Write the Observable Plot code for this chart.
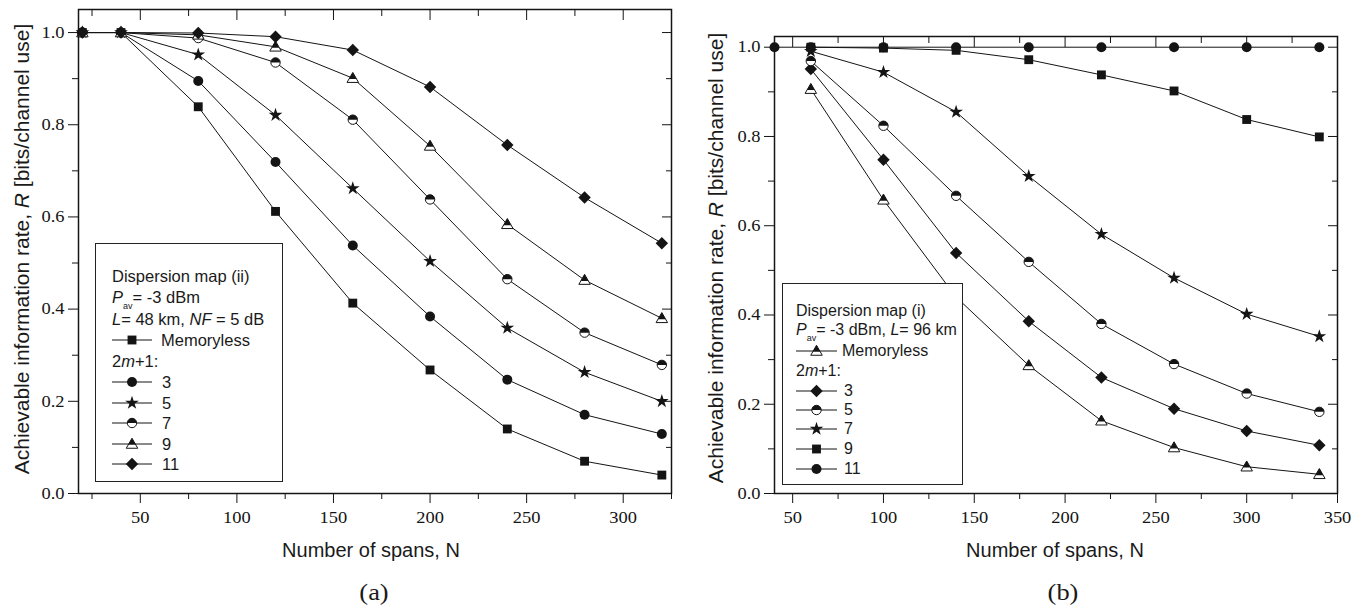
<!DOCTYPE html>
<html>
<head>
<meta charset="utf-8">
<script src="https://cdn.jsdelivr.net/npm/d3@7"></script>
<script src="https://cdn.jsdelivr.net/npm/@observablehq/plot@0.6"></script>
<style>
  body { margin: 0; background: #fff; }
  #page { position: relative; width: 1363px; height: 609px; overflow: hidden;
          font-family: "Liberation Sans", Arial, sans-serif; color: #1a1a1a; }
  .panel { position: absolute; top: 0; }
  .ylab { position: absolute; white-space: nowrap; font-size: 21px;
          transform: translate(-50%, -50%) rotate(-90deg); }
  .xlab { position: absolute; white-space: nowrap; font-size: 20px;
          transform: translate(-50%, -50%); }
  .cap { position: absolute; font-family: "Liberation Serif", serif; font-size: 24px;
         transform: translate(-50%, -50%) scaleX(1.1); }
  .legend { position: absolute; background: #fff; border: 1px solid #222; box-sizing: border-box; }
  .row { position: absolute; white-space: nowrap; font-size: 16.5px; line-height: 16px; height: 16px;
         transform: translateY(-50%); }
  .legend.narrow .row { font-size: 16px; }
  .row svg { position: absolute; top: 1px; }
  sub.av { font-size: 9px; vertical-align: -6px; }
</style>
</head>
<body>
<div id="page"></div>
<script>
// ---------- (a) dispersion map (ii), L = 48 km ----------
const spansA = [20, 40, 80, 120, 160, 200, 240, 280, 320];
const memorylessA = [1.0, 1.0, 0.839, 0.612, 0.413, 0.268, 0.140, 0.070, 0.040];
const win3A  = [1.0, 1.0, 0.895, 0.719, 0.538, 0.384, 0.247, 0.171, 0.129];
const win5A  = [1.0, 1.0, 0.952, 0.821, 0.662, 0.504, 0.359, 0.263, 0.200];
const win7A  = [1.0, 1.0, 0.988, 0.935, 0.811, 0.638, 0.465, 0.349, 0.279];
const win9A  = [1.0, 1.0, 0.995, 0.969, 0.901, 0.754, 0.584, 0.463, 0.380];
const win11A = [1.0, 1.0, 0.999, 0.991, 0.962, 0.882, 0.756, 0.642, 0.543];

// ---------- (b) dispersion map (i), L = 96 km ----------
const spansB = [40, 60, 100, 140, 180, 220, 260, 300, 340];
const memorylessB = [null, 0.906, 0.658, 0.440, 0.287, 0.163, 0.103, 0.060, 0.043];
const win3B  = [null, 0.951, 0.748, 0.539, 0.386, 0.260, 0.190, 0.140, 0.108];
const win5B  = [null, 0.969, 0.824, 0.667, 0.519, 0.380, 0.290, 0.224, 0.183];
const win7B  = [null, 0.991, 0.944, 0.855, 0.711, 0.581, 0.483, 0.402, 0.352];
const win9B  = [null, 1.0, 0.998, 0.993, 0.972, 0.938, 0.902, 0.838, 0.799];
const win11B = [1.0, 1.0, 1.0, 1.0, 1.0, 1.0, 1.0, 1.0, 1.0];

// ---------- axis ticks ----------
const xMajorA = [50, 100, 150, 200, 250, 300];
const xMinorA = [25, 75, 125, 175, 225, 275, 325];
const xMajorB = [50, 100, 150, 200, 250, 300, 350];
const xMinorB = [75, 125, 175, 225, 275, 325];
const yMajor = [0, 0.2, 0.4, 0.6, 0.8, 1.0];
const yMinor = [0.1, 0.3, 0.5, 0.7, 0.9];

// ---------- text ----------
const yTitle = "Achievable information rate, <i>R</i> [bits/channel use]";
const xTitle = "Number of spans, N";
const legendHeadA = ["Dispersion map (ii)", "<i>P</i><sub class='av'>av</sub>= -3 dBm", "<i>L</i>= 48 km, <i>NF</i> = 5 dB"];
const legendHeadB = ["Dispersion map (i)", "<i>P</i><sub class='av'>av</sub>= -3 dBm, <i>L</i>= 96 km"];
const windowHeading = "2<i>m</i>+1:";

// ---------- marker shapes ----------
const halfDiscTop = {
  draw(ctx, size) {
    const r = Math.sqrt(size / Math.PI);
    ctx.moveTo(r, 0);
    ctx.arc(0, 0, r, 0, Math.PI, true);
    ctx.closePath();
  }
};
const triOutline = {
  draw(ctx, size) {
    const r = Math.sqrt(size / Math.PI);
    ctx.moveTo(0, -1.15 * r);
    ctx.lineTo(1.15 * r, 0.85 * r);
    ctx.lineTo(-1.15 * r, 0.85 * r);
    ctx.closePath();
  }
};
const triTop = {
  draw(ctx, size) {
    const r = Math.sqrt(size / Math.PI);
    const top = -1.15 * r, bot = 0.85 * r, t = 0.66;
    const cut = top + t * (bot - top), w = 1.15 * r * t;
    ctx.moveTo(0, top);
    ctx.lineTo(w, cut);
    ctx.lineTo(-w, cut);
    ctx.closePath();
  }
};
const INK = "#141414";
const TICK_FONT = "'Liberation Serif', 'Times New Roman', serif";
const markerLayers = {
  square:   [{symbol: "square", fill: INK, r: 5}],
  circle:   [{symbol: "circle", fill: INK, r: 5}],
  star:     [{symbol: "star", fill: INK, r: 4.3}],
  diamond:  [{symbol: "diamond2", fill: INK, r: 5.6}],
  halfdisc: [{symbol: "circle", fill: "#fff", stroke: INK, r: 4.7},
             {symbol: halfDiscTop, fill: INK, r: 4.7}],
  halftri:  [{symbol: triOutline, fill: "#fff", stroke: INK, r: 5},
             {symbol: triTop, fill: INK, r: 5}]
};
const d3Types = {square: d3.symbolSquare, circle: d3.symbolCircle, star: d3.symbolStar, diamond2: d3.symbolDiamond2};

const seriesA = [
  {name: "Memoryless", kind: "square", values: memorylessA},
  {name: "3", kind: "circle", values: win3A},
  {name: "5", kind: "star", values: win5A},
  {name: "7", kind: "halfdisc", values: win7A},
  {name: "9", kind: "halftri", values: win9A},
  {name: "11", kind: "diamond", values: win11A}
];
const seriesB = [
  {name: "Memoryless", kind: "halftri", values: memorylessB},
  {name: "3", kind: "diamond", values: win3B},
  {name: "5", kind: "halfdisc", values: win5B},
  {name: "7", kind: "star", values: win7B},
  {name: "9", kind: "square", values: win9B},
  {name: "11", kind: "circle", values: win11B}
];

function panel(spans, series, o) {
  const rows = series.flatMap(s => s.values.map((v, i) => ({series: s.name, kind: s.kind, n: spans[i], r: v})))
    .filter(d => d.r != null);
  const blank = () => "";
  const marks = [
    Plot.axisX({ticks: o.xMajor, tickSize: 10, tickPadding: 8, label: null, tickFormat: d => String(d)}),
    Plot.axisX({ticks: o.xMinor, tickSize: 6, label: null, tickFormat: blank}),
    Plot.axisX({anchor: "top", ticks: o.xMajor, tickSize: -10, label: null, tickFormat: blank}),
    Plot.axisX({anchor: "top", ticks: o.xMinor, tickSize: -6, label: null, tickFormat: blank}),
    Plot.axisY({ticks: yMajor, tickSize: 10, tickPadding: 4, label: null, tickFormat: d3.format(".1f")}),
    Plot.axisY({ticks: yMinor, tickSize: 6, label: null, tickFormat: blank}),
    Plot.axisY({anchor: "right", ticks: yMajor, tickSize: -10, label: null, tickFormat: blank}),
    Plot.axisY({anchor: "right", ticks: yMinor, tickSize: -6, label: null, tickFormat: blank}),
    Plot.line(rows, {x: "n", y: "r", z: "series", stroke: INK, strokeWidth: 1})
  ];
  for (const s of series) {
    for (const layer of markerLayers[s.kind]) {
      marks.push(Plot.dot(rows.filter(d => d.series === s.name), {x: "n", y: "r", strokeWidth: 1, ...layer}));
    }
  }
  marks.push(Plot.frame({stroke: INK, strokeWidth: 1.5}));
  const svg = Plot.plot({
    width: o.width, height: 540,
    marginLeft: o.ml, marginRight: o.mr, marginTop: o.mt, marginBottom: 47,
    x: {domain: o.xDomain, label: null},
    y: {domain: o.yDomain, label: null},
    style: {color: INK, background: "transparent", overflow: "visible"},
    marks
  });
  // tick labels use a Times-like face, set slightly wide as in the printed figure
  const root = svg.tagName.toLowerCase() === "svg" ? svg : svg.querySelector("svg");
  d3.select(root).selectAll("text")
    .attr("font-family", TICK_FONT).attr("font-size", 16.5)
    .style("font-family", TICK_FONT, "important").style("font-size", "16.5px", "important")
    .attr("transform", function() {
      const t = this.getAttribute("transform") || "";
      return t + " scale(1.12,1)";
    });
  return svg;
}

const page = document.getElementById("page");
function place(el, left) { el.classList.add("panel"); el.style.left = left + "px"; page.appendChild(el); }

place(panel(spansA, seriesA, {width: 690, ml: 78, mr: 19, mt: 9, xMajor: xMajorA, xMinor: xMinorA, xDomain: [18, 325], yDomain: [0, 1.05]}), 0);
place(panel(spansB, seriesB, {width: 673, ml: 84, mr: 26, mt: 36, xMajor: xMajorB, xMinor: xMinorB, xDomain: [40, 350], yDomain: [0, 1.024]}), 690);

function addDiv(cls, html, x, y) {
  const d = document.createElement("div");
  d.className = cls; d.innerHTML = html;
  d.style.left = x + "px"; d.style.top = y + "px";
  page.appendChild(d);
  return d;
}
addDiv("ylab", yTitle, 22, 249);
addDiv("ylab", yTitle, 716, 258);
addDiv("xlab", xTitle, 371, 550);
addDiv("xlab", xTitle, 1055, 550);
addDiv("cap", "(a)", 374, 592);
addDiv("cap", "(b)", 1063, 592);

function legendSymbol(kind, w, cx) {
  const svg = d3.create("svg").attr("width", w).attr("height", 14).style("overflow", "visible");
  svg.append("line").attr("x1", 0).attr("x2", w).attr("y1", 7).attr("y2", 7).attr("stroke", INK).attr("stroke-width", 1);
  for (const layer of markerLayers[kind]) {
    const type = typeof layer.symbol === "string" ? d3Types[layer.symbol] : layer.symbol;
    svg.append("path")
      .attr("transform", `translate(${cx},7)`)
      .attr("d", d3.symbol(type, Math.PI * layer.r * layer.r)())
      .attr("fill", layer.fill).attr("stroke", layer.stroke || "none").attr("stroke-width", 1);
  }
  return svg.node();
}

function legend(box, head, series, rowsY, textX, lineW, labelX, extraClass) {
  const el = document.createElement("div");
  el.className = "legend" + (extraClass ? " " + extraClass : "");
  Object.assign(el.style, {left: box[0] + "px", top: box[1] + "px", width: box[2] + "px", height: box[3] + "px"});
  page.appendChild(el);
  const items = [...head.map(h => ({html: h})), {html: series[0].name, kind: series[0].kind, pad: labelX[0]},
                 {html: windowHeading}, ...series.slice(1).map(s => ({html: s.name, kind: s.kind, pad: labelX[1]}))];
  items.forEach((it, i) => {
    const r = document.createElement("div");
    r.className = "row";
    r.style.top = rowsY[i] + "px";
    r.style.left = textX + "px";
    if (it.kind) {
      const sym = legendSymbol(it.kind, lineW, lineW / 2);
      sym.style.left = "0px";
      r.appendChild(sym);
      const t = document.createElement("span");
      t.innerHTML = it.html;
      t.style.marginLeft = it.pad + "px";
      r.appendChild(t);
    } else {
      r.innerHTML = it.html;
    }
    el.appendChild(r);
  });
}
legend([95, 243, 188, 239], legendHeadA, seriesA, [32, 53, 75, 96, 117, 138, 159, 179, 200, 220], 16, 40, [49, 50]);
legend([782, 283, 181, 202], legendHeadB, seriesB, [27, 46, 67, 87, 107, 126, 145, 165, 185], 13, 41, [46, 48], "narrow");
</script>
</body>
</html>
